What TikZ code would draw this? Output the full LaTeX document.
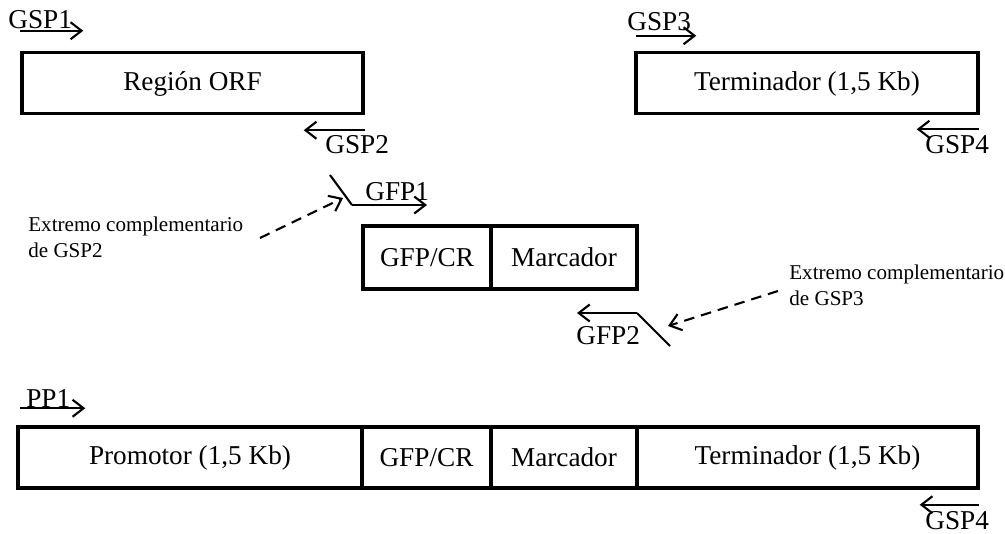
\documentclass[tikz,border=0pt]{standalone}
\usepackage{fontspec}
\setmainfont{Liberation Serif}
\usetikzlibrary{calc,arrows.meta}
\tikzstyle{seg}=[shape=rectangle, draw=black, line width=2pt, minimum height=1.22cm, inner sep=0, font=\fontsize{15.5}{18}\selectfont]
\tikzstyle{lowtext}=[text height=0.8em, text depth=0pt]
\tikzstyle{primer}=[line width=1.2pt, -{Straight Barb[length=2.2mm, width=3.4mm]}]
\tikzstyle{oligo}=[line width=1.2pt]
\tikzstyle{plabel}=[inner sep=0, anchor=base west, font=\fontsize{15.5}{18}\selectfont]
\tikzstyle{note}=[inner sep=0, anchor=base west, align=left, font=\fontsize{12}{14.5}\selectfont]
\tikzstyle{hint}=[line width=1.2pt, dash pattern=on 6pt off 4pt, -{Straight Barb[length=2.2mm, width=3.4mm]}]

\begin{document}
\begin{tikzpicture}[x=0.02cm, y=-0.02cm]
\useasboundingbox (0,0) rectangle (1005,534);

% fragmentos amplificados
\node[seg, lowtext, minimum width=6.82cm] (orf) at (192.5,83) {Región ORF};
\node[seg, lowtext, minimum width=6.84cm] (term) at (807,83) {Terminador (1,5 Kb)};
\node[seg, minimum width=2.56cm, minimum height=1.26cm] (gfp) at (427,257.5) {GFP/CR};
\node[seg, minimum width=2.92cm, minimum height=1.26cm] (marc) at (564,257.5) {Marcador};

% construccion final
\node[seg, minimum width=6.88cm] (prom) at (190,457.5) {Promotor (1,5 Kb)};
\node[seg, minimum width=2.58cm] (gfpb) at (426.5,457.5) {GFP/CR};
\node[seg, minimum width=2.92cm] (marcb) at (564,457.5) {Marcador};
\node[seg, minimum width=6.82cm] (termb) at (807.5,457.5) {Terminador (1,5 Kb)};

% cebadores
\coordinate (gsp1) at ($(orf.north west)+(0,-20)$);
\draw[primer] (gsp1) -- ++(63,0);
\node[plabel] (lgsp1) at (8,29) {GSP1};
\coordinate (gsp2) at ($(orf.south east)+(0,15)$);
\draw[primer] (gsp2) -- ++(-61,0);
\node[plabel] (lgsp2) at (325,153) {GSP2};
\coordinate (gsp3) at ($(term.north west)+(2,-15)$);
\draw[primer] (gsp3) -- ++(60,0);
\node[plabel] (lgsp3) at (627,31) {GSP3};
\coordinate (gsp4) at ($(term.south east)+(-1,14)$);
\draw[primer] (gsp4) -- ++(-62,0);
\node[plabel] (lgsp4) at (925,153) {GSP4};

\coordinate (gfp1a) at (330,175);
\coordinate (gfp1b) at (352,205);
\draw[oligo] (gfp1a) -- (gfp1b);
\draw[primer] (gfp1b) -- ++(75,0);
\node[plabel] (lgfp1) at (365,200) {GFP1};
\coordinate (gfp2a) at (637,313);
\coordinate (gfp2b) at (670,346);
\draw[oligo] (gfp2a) -- (gfp2b);
\draw[primer] (gfp2a) -- ++(-60,0);
\node[plabel] (lgfp2) at (576,344) {GFP2};

\coordinate (pp1) at ($(prom.north west)+(4,-17)$);
\draw[primer] (pp1) -- ++(65,0);
\node[plabel] (lpp1) at (26,407) {PP1};
\coordinate (gsp4b) at ($(termb.south east)+(-1,15)$);
\draw[primer] (gsp4b) -- ++(-59,0);
\node[plabel] (lgsp4b) at (925,529) {GSP4};

% extremos complementarios
\node[note] (ext2) at (28,257) {Extremo complementario\\de GSP2};
\node[note] (ext3) at (789,305) {Extremo complementario\\de GSP3};
\coordinate (ext2tail) at (260,238);
\coordinate (ext2head) at (343,198);
\coordinate (ext3tail) at (778,291);
\coordinate (ext3head) at (668,326);
\draw[hint] (ext2tail) -- (ext2head);
\draw[hint] (ext3tail) -- (ext3head);
\end{tikzpicture}
\end{document}
